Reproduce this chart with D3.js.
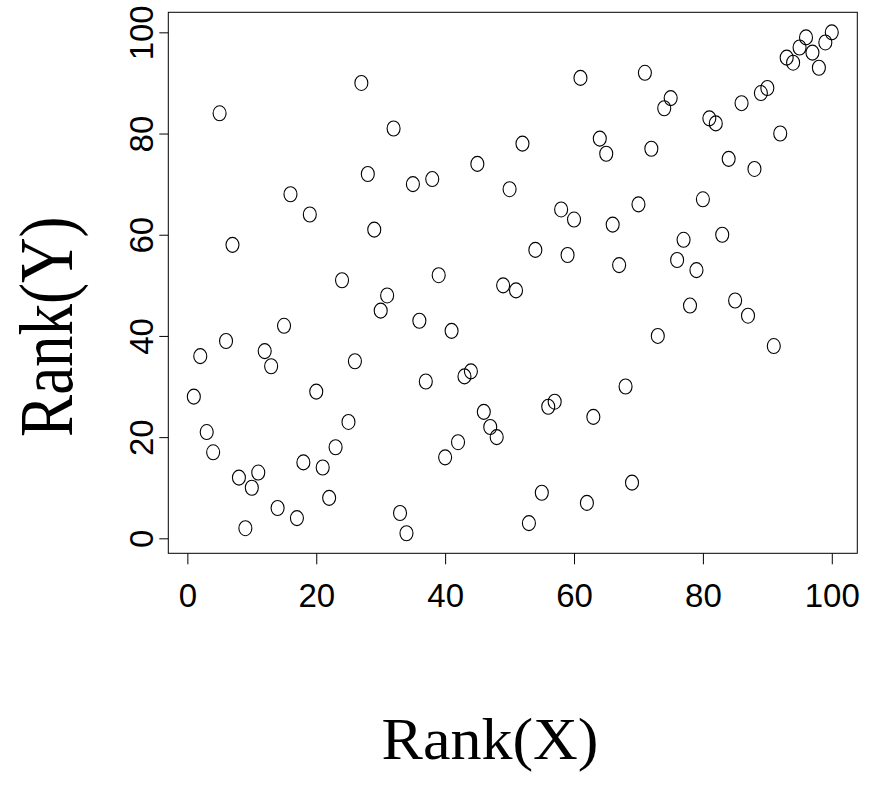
<!DOCTYPE html>
<html>
<head>
<meta charset="utf-8">
<script src="https://cdn.jsdelivr.net/npm/d3@7"></script>
<style>
  body { margin: 0; background: #fff; }
  svg { display: block; }
  .tick text { font-family: "Liberation Sans", Arial, Helvetica, sans-serif; font-size: 33px; fill: #000; }
  .tick line { stroke: #000; stroke-width: 1; }
  .title { font-family: "Liberation Serif", "Times New Roman", Times, serif; fill: #000; }
</style>
</head>
<body>
<svg width="882" height="786"></svg>
<script>
// rank of X (1..100) and matching rank of Y
var rankX = [1, 2, 3, 4, 5, 6, 7, 8, 9, 10,
             11, 12, 13, 14, 15, 16, 17, 18, 19, 20,
             21, 22, 23, 24, 25, 26, 27, 28, 29, 30,
             31, 32, 33, 34, 35, 36, 37, 38, 39, 40,
             41, 42, 43, 44, 45, 46, 47, 48, 49, 50,
             51, 52, 53, 54, 55, 56, 57, 58, 59, 60,
             61, 62, 63, 64, 65, 66, 67, 68, 69, 70,
             71, 72, 73, 74, 75, 76, 77, 78, 79, 80,
             81, 82, 83, 84, 85, 86, 87, 88, 89, 90,
             91, 92, 93, 94, 95, 96, 97, 98, 99, 100];
var rankY = [28, 36, 21, 17, 84, 39, 58, 12, 2, 10,
             13, 37, 34, 6, 42, 68, 4, 15, 64, 29,
             14, 8, 18, 51, 23, 35, 90, 72, 61, 45,
             48, 81, 5, 1, 70, 43, 31, 71, 52, 16,
             41, 19, 32, 33, 74, 25, 22, 20, 50, 69,
             49, 78, 3, 57, 9, 26, 27, 65, 56, 63,
             91, 7, 24, 79, 76, 62, 54, 30, 11, 66,
             92, 77, 40, 85, 87, 55, 59, 46, 53, 67,
             83, 82, 60, 75, 47, 86, 44, 73, 88, 89,
             38, 80, 95, 94, 97, 99, 96, 93, 98, 100];
var xTicks = [0, 20, 40, 60, 80, 100];
var yTicks = [0, 20, 40, 60, 80, 100];
var xTitle = "Rank(X)";
var yTitle = "Rank(Y)";

var svg = d3.select("svg");

var box = {left: 168.3, top: 12.3, right: 857.3, bottom: 553.3};

// R style 4% padding around the data range
var x = d3.scaleLinear().domain([-2.96, 103.96]).range([box.left, box.right]);
var y = d3.scaleLinear().domain([-2.96, 103.96]).range([box.bottom, box.top]);

var points = rankX.map(function(d, i) { return {x: d, y: rankY[i]}; });

// x axis
var gx = svg.append("g")
    .attr("transform", "translate(0," + box.bottom + ")")
    .call(d3.axisBottom(x).tickValues(xTicks).tickSize(11).tickFormat(d3.format("d")));
gx.select(".domain").remove();
gx.selectAll(".tick text")
    .attr("y", 53.7)
    .attr("dy", 0);

// y axis, labels turned like R's las=0
var gy = svg.append("g")
    .attr("transform", "translate(" + box.left + ",0)")
    .call(d3.axisLeft(y).tickValues(yTicks).tickSize(9).tickFormat(d3.format("d")));
gy.select(".domain").remove();
gy.selectAll(".tick text")
    .attr("x", null)
    .attr("dy", 0)
    .attr("text-anchor", "middle")
    .attr("transform", "translate(-15.8,0) rotate(-90)");

// frame
svg.append("rect")
    .attr("x", box.left)
    .attr("y", box.top)
    .attr("width", box.right - box.left)
    .attr("height", box.bottom - box.top)
    .attr("fill", "none")
    .attr("stroke", "#000")
    .attr("stroke-width", 1);

// open circles
svg.append("g")
    .selectAll("ellipse")
    .data(points)
    .enter().append("ellipse")
    .attr("cx", function(d) { return x(d.x); })
    .attr("cy", function(d) { return y(d.y); })
    .attr("rx", 6.5)
    .attr("ry", 7.5)
    .attr("fill", "none")
    .attr("stroke", "#000")
    .attr("stroke-width", 1.1);

// axis titles
svg.append("text")
    .attr("class", "title")
    .attr("transform", "translate(490,758.7) scale(1,0.96)")
    .attr("text-anchor", "middle")
    .style("font-size", "62px")
    .text(xTitle);

svg.append("text")
    .attr("class", "title")
    .attr("transform", "translate(71.7,326.7) rotate(-90) scale(1,1.21)")
    .attr("text-anchor", "middle")
    .style("font-size", "63px")
    .text(yTitle);
</script>
</body>
</html>
